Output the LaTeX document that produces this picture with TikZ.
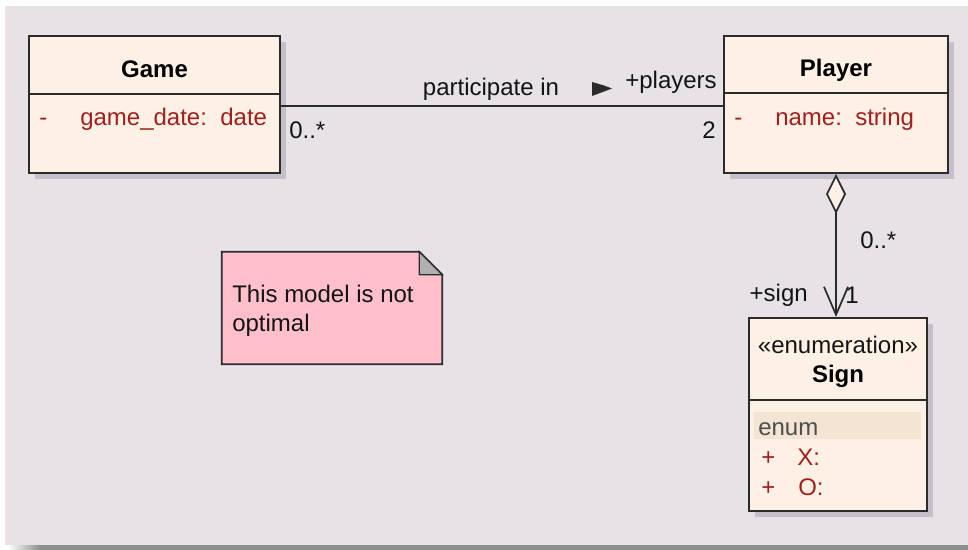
\documentclass[tikz,border=0pt]{standalone}
\usepackage{fontspec}
\setmainfont{Liberation Sans}
\usetikzlibrary{arrows.meta,shadows,calc}

\definecolor{panel}{HTML}{E6E2E6}
\definecolor{classfill}{HTML}{FDF1E5}
\definecolor{shadowcol}{HTML}{C4BFC9}
\definecolor{attrred}{HTML}{A31F1F}
\definecolor{notepink}{HTML}{FFC0CB}
\definecolor{foldgray}{HTML}{B0B0B0}
\definecolor{edgecol}{HTML}{2B2B2B}
\definecolor{labeltext}{HTML}{141414}
\definecolor{enumrow}{HTML}{F3E4D4}
\definecolor{enumtext}{HTML}{4D4D4D}
\definecolor{panelshadow}{HTML}{8E8E8E}

\begin{document}
\begin{tikzpicture}[x=0.75pt,y=-0.75pt,
  every node/.style={font=\fontsize{18pt}{22pt}\selectfont, inner sep=0pt, text=labeltext},
  classbox/.style={draw=edgecol, line width=1.5pt, fill=classfill,
    drop shadow={shadow xshift=4.5pt, shadow yshift=-4.5pt, fill=shadowcol, opacity=1}},
  classname/.style={font=\fontsize{18pt}{22pt}\selectfont\bfseries, text=black},
  attr/.style={text=attrred},
  divider/.style={draw=edgecol, line width=1.5pt},
  assoc/.style={draw=edgecol, line width=1.3pt},
]
\useasboundingbox (0,0) rectangle (968,550);

% canvas
\fill[white] (0,0) rectangle (968,550);
\fill[panel] (5,6) rectangle (968,545);
\shade[left color=white, right color=panelshadow] (8,545) rectangle (40,550);
\fill[panelshadow] (40,545) rectangle (968,550);

% classes
\node[classbox, minimum width=188.25pt, minimum height=102.75pt] (game) at (154.5,104.5) {};
\node[classbox, minimum width=168pt, minimum height=102.75pt] (player) at (836,104.5) {};
\node[classbox, minimum width=133.5pt, minimum height=144.75pt] (sign) at (838,414.5) {};

\draw[divider] (game.west |- 0,94) -- (game.east |- 0,94);
\draw[divider] (player.west |- 0,93) -- (player.east |- 0,93);
\draw[divider] (sign.west |- 0,400) -- (sign.east |- 0,400);

% Game
\node[classname, anchor=base] (gametitle) at (154.5,77) {Game};
\node[attr, anchor=base west] (gamevis) at (39,125) {-};
\node[attr, anchor=base west] (gameattr) at (80,125) {game\_date:\ \ date};

% Player
\node[classname, anchor=base] (playertitle) at (836,76) {Player};
\node[attr, anchor=base west] (playervis) at (734,125) {-};
\node[attr, anchor=base west] (playerattr) at (775,125) {name:\ \ string};

% Sign enumeration
\node[anchor=base] (signstereo) at (838,353) {«enumeration»};
\node[classname, anchor=base] (signtitle) at (838,382) {Sign};
\fill[enumrow] (754,412) rectangle (921,439);
\node[anchor=base west, text=enumtext] (enumlabel) at (758,435) {enum};
\node[attr, anchor=base west] (xvis) at (761,465) {+};
\node[attr, anchor=base west] (xlit) at (797,465) {X:};
\node[attr, anchor=base west] (ovis) at (761,495) {+};
\node[attr, anchor=base west] (olit) at (798,495) {O:};

% association Game -- Player
\draw[assoc] ([yshift=-1.1pt]game.east) -- ([yshift=-1.1pt]player.west);
\node[anchor=base] (assocname) at (491,95) {participate in};
\fill[edgecol] (592,82) -- (604,85.5) -- (612,88.5) -- (604,91.5) -- (592,96) -- cycle;
\node[anchor=base east] (rolePlayers) at (717,88) {+players};
\node[anchor=base west] (multGame) at (289,138) {0..*};
\node[anchor=base east] (multPlayers) at (716,138) {2};

% aggregation Player <>-- Sign
\draw[assoc, line join=miter,
  {Diamond[fill=classfill, length=30pt, width=15pt]}-{Straight Barb[length=21pt, width=18pt]}]
  (player.south) -- (player.south |- sign.north);
\node[anchor=base west] (multAgg) at (860,248) {0..*};
\node[anchor=base east] (roleSign) at (808,301) {+sign};
\node[anchor=base west] (multSign) at (845,303) {1};

% note
\node[minimum width=165pt, minimum height=84pt] (note) at (332,308) {};
\filldraw[fill=notepink, draw=edgecol, line width=1.3pt]
  (note.north west) -- ([xshift=-17.25pt]note.north east)
  -- ([yshift=-17.25pt]note.north east) -- (note.south east)
  -- (note.south west) -- cycle;
\filldraw[fill=foldgray, draw=edgecol, line width=1pt]
  ([xshift=-17.25pt]note.north east) -- ([xshift=-17.25pt,yshift=-17.25pt]note.north east)
  -- ([yshift=-17.25pt]note.north east) -- cycle;
\node[anchor=north west, align=left] (notetext) at (232,285) {This model is not\\optimal};
\end{tikzpicture}
\end{document}
